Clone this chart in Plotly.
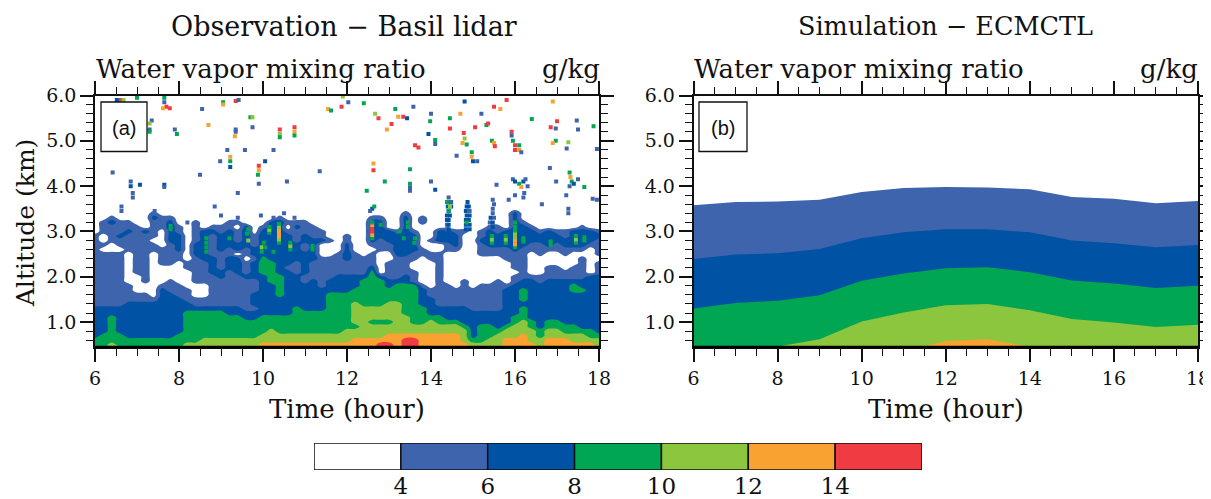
import plotly.graph_objects as go

W, H = 1211, 499
SERIF = "DejaVu Serif"
band_colors = ["#ffffff", "#3e64ad", "#0052a4", "#00a651", "#8cc63f", "#f9a131", "#ef3b41"]
band_labels = [4, 6, 8, 10, 12, 14]
band_centres = [3, 5, 7, 9, 11, 13, 15]
bar_heights = [1, 1, 1, 1, 1, 1, 1]

# Panel (a): observed mixing-ratio class stacked upward in each time column ("class:top_km").
obs_hours = [round(6 + 0.2 * i, 1) for i in range(61)]
obs_columns = [
    "3:.6 2:1.35 1:2.5 0:2.55 1:2.95",
    "3:.72 2:1.37 1:2.55 0:2.6 1:2.7 0:2.95 1:3.25",
    "4:.55 3:1.15 2:1.38 1:2.55 0:2.7 1:3.1 2:3.2 1:3.3",
    "4:.45 3:.7 2:1.38 1:2.55 0:2.65 1:2.85 2:2.95 1:3.2",
    "3:.62 2:1.4 1:1.8 0:2.5 1:2.9 2:3.0 1:3.2",
    "3:.62 2:1.4 1:1.6 0:2.0 1:3.1",
    "3:.62 2:1.4 1:1.6 0:1.85 1:2.4 0:2.45 1:2.9 2:3.0 1:3.05",
    "3:.62 2:1.4 1:1.55 0:2.55 1:2.75 0:2.8 1:3.2 2:3.3 1:3.4",
    "3:.65 2:1.75 1:1.85 0:2.2 1:2.65 0:3.0 1:3.35",
    "3:.68 2:1.65 1:1.9 0:2.25 1:2.75 2:3.2 1:3.3",
    "3:.7 2:1.5 1:1.8 0:2.3 1:2.55 2:2.95 1:3.1",
    "4:.5 3:1.2 2:1.4 1:1.7 0:2.15 1:2.35 0:3.0",
    "4:.55 3:1.22 2:1.37 1:1.55 0:1.85 1:2.4 2:2.7 1:3.25",
    "4:.6 3:1.22 2:1.35 1:1.5 0:1.8 1:2.3 2:3.0 1:3.05",
    "4:.6 3:1.2 2:1.33 1:2.05 2:2.45 1:2.9 2:3.05 1:3.1",
    "4:.6 3:1.2 2:1.33 1:1.9 2:2.1 1:2.5 2:2.95 1:3.15",
    "4:.6 3:1.15 2:1.32 1:2.1 2:2.4 1:2.6 2:3.05 1:3.2",
    "4:.6 3:1.12 2:1.3 1:2.0 2:2.45 0:2.5 2:2.75 1:3.0 0:3.1 1:3.2",
    "4:.6 3:1.08 2:1.27 1:1.9 2:2.0 1:2.3 0:2.45 1:2.65 2:3.1 1:3.15",
    "4:.62 3:1.08 2:1.27 1:1.3 2:1.6 1:1.9 2:2.3 1:2.4 2:2.6 1:2.95",
    "5:.52 4:.75 3:1.1 2:2.0 3:2.4 2:3.0 1:3.1",
    "5:.53 4:.85 3:1.15 2:1.85 3:2.35 2:3.2 1:3.28",
    "5:.55 4:.75 3:1.18 2:1.55 3:2.05 2:3.22 1:3.3",
    "5:.5 4:.7 3:1.18 2:2.1 1:2.2 2:2.9 1:3.0 0:3.1 1:3.2",
    "5:.52 4:.71 3:1.35 2:2.0 1:2.3 2:2.7 1:3.0 2:3.1 1:3.28",
    "5:.52 4:.71 3:1.25 2:1.85 1:2.0 2:2.5 1:2.7 2:2.9 1:3.2",
    "5:.58 4:.71 3:1.2 2:1.9 1:2.3 2:2.85 1:3.1",
    "5:.58 4:.71 3:1.2 2:1.75 1:2.4 0:2.7 2:2.85 1:3.0",
    "5:.55 4:.71 3:1.65 2:1.95 1:2.45 0:2.75 1:2.8",
    "5:.52 4:.7 3:1.6 2:2.0 1:2.5",
    "5:.55 4:.8 3:1.65 2:2.0 1:2.3 2:2.7 1:2.9",
    "5:.62 4:.88 3:.95 4:1.42 3:1.72 2:2.05 1:2.55",
    "5:.66 4:.9 3:.92 4:1.3 3:1.95 2:2.0 1:2.45 0:2.9 1:2.95",
    "5:.68 4:.9 3:1.05 4:1.3 3:2.1 2:2.2 1:2.5 0:2.6 1:2.75 2:3.25 1:3.3",
    "6:.58 5:.68 4:.9 3:1.05 4:1.35 3:1.9 2:2.0 1:2.02 0:2.55 1:2.85 2:3.2 1:3.35",
    "6:.58 5:.7 4:.9 3:1.05 4:1.4 3:1.75 2:1.95 1:2.3 0:2.55 1:2.75 2:3.0 1:3.05",
    "5:.72 4:1.45 3:1.8 2:1.95 1:2.4 2:2.9 1:3.0",
    "6:.62 5:.75 4:1.1 3:1.8 2:2.0 1:2.45 2:3.3 1:3.45",
    "6:.6 5:.7 4:.95 3:1.8 2:1.85 1:2.1 0:2.3 1:2.5 2:2.9 1:3.0",
    "5:.7 4:.98 3:1.35 2:1.75 1:1.85 0:2.45 1:2.6 0:3.1 1:3.35",
    "5:.71 4:1.0 3:1.16 2:1.55 1:1.7 0:2.35 1:2.5 0:2.75 1:2.85",
    "5:.72 4:.95 3:1.1 2:1.35 1:2.55 0:2.7 2:3.0 1:3.05",
    "5:.72 4:.95 3:1.03 2:1.3 1:1.85 0:2.55 1:2.7 2:3.0",
    "5:.75 4:.95 3:1.0 2:1.3 1:1.75 0:2.55 1:2.65 2:2.9 1:3.0",
    "5:.52 4:.8 3:.92 2:1.3 1:1.9 0:2.9 1:3.0",
    "4:.52 3:.68 2:1.27 1:1.75 0:2.85",
    "4:.52 3:.9 2:1.25 1:1.8 0:2.4 1:2.7 2:2.85 1:3.0",
    "4:.6 3:.9 2:1.22 1:1.8 0:2.4 1:2.6 2:3.0 1:3.1",
    "5:.48 4:.72 3:.8 2:1.2 1:1.95 0:2.45 1:2.6 2:2.9 1:3.1",
    "5:.65 4:.85 3:.95 2:1.75 1:1.85 0:2.3 1:2.6 2:3.0 1:3.05",
    "5:.68 4:.95 3:1.15 2:1.85 1:2.0 0:2.1 1:2.5 2:3.4 1:3.45",
    "5:.72 4:1.0 3:1.3 2:1.45 3:1.78 2:1.95 1:2.6 2:3.1 1:3.2",
    "5:.55 4:.8 3:1.0 2:1.9 1:2.0 0:2.5 1:2.75 2:3.0 1:3.1",
    "4:.6 3:.8 2:1.88 1:2.0 0:2.45 1:2.7 2:2.9 1:3.0",
    "5:.62 4:.85 3:1.05 2:1.9 1:2.2 0:2.5 1:2.6 2:3.0 1:3.05",
    "5:.62 4:.8 3:1.0 2:1.92 1:2.2 0:2.5 1:2.7 2:2.95 1:3.05",
    "5:.6 4:.75 3:.93 2:1.95 1:2.15 0:2.4 1:2.6 2:2.8 1:3.0",
    "5:.58 4:.72 3:.9 2:1.65 3:1.8 2:1.95 1:2.2 0:2.5 1:2.6 2:3.05 1:3.08",
    "5:.55 4:.7 3:.85 2:1.65 3:1.75 2:1.97 1:2.45 0:2.55 1:2.65 2:3.05 1:3.1",
    "5:.5 4:.66 3:.8 2:2.0 1:2.05 0:2.6 1:2.7 2:3.0 1:3.05",
    "5:.48 4:.65 3:.77 2:2.0 1:2.3 0:2.45 1:2.8 2:2.95 1:3.05",
]
obs_altitudes = [round(0.4 + 0.1 * i, 1) for i in range(37)]

# Panel (a): isolated cloud-top retrievals, (hour, km, class).
specks = [
    (6.6,5.9,6),(6.52,5.9,2),(6.68,5.9,4),(7.0,5.95,3),(7.65,5.95,3),(7.65,5.85,1),(7.7,5.75,6),(7.62,5.72,5),(7.78,5.72,6),
    (7.35,5.45,1),(7.3,5.38,4),(7.3,5.25,1),(7.3,5.2,3),(7.9,5.25,1),(7.95,5.15,3),(8.55,5.7,1),(8.7,5.35,5),(9.05,5.85,3),(9.05,5.8,5),
    (9.35,5.88,6),(9.42,5.9,1),(9.7,5.52,3),(9.75,5.52,4),(9.35,5.25,1),(9.35,5.2,1),(9.33,5.1,5),(9.75,5.3,1),
    (10.4,5.25,6),(10.4,5.15,4),(10.4,5.08,3),(10.75,5.3,6),(10.75,5.2,5),(10.75,5.12,3),(9.15,4.8,1),(9.22,4.65,5),(9.22,4.55,3),(9.22,4.42,2),
    (8.98,4.55,1),(9.57,4.8,1),(9.9,4.45,6),(9.9,4.35,5),(9.88,4.25,3),(10.05,4.55,2),(10.25,4.8,1),(9.9,4.05,1),(10.57,4.1,1),(11.35,4.33,1),
    (8.5,4.25,1),(9.4,3.85,1),(6.42,4.3,1),(6.85,4.1,1),(6.85,4.0,2),(6.9,3.85,1),(6.9,3.75,1),(7.07,4.03,2),(7.65,4.03,2),(7.65,3.98,1),
    (6.63,3.55,1),(6.63,3.45,1),(8.85,3.55,1),(11.55,5.7,5),(11.62,5.67,3),(11.87,5.75,6),(12.03,5.85,1),(11.9,5.98,4),(12.4,5.83,3),
    (12.67,5.6,4),(12.75,5.5,6),(13.06,5.37,6),(12.95,5.25,5),(13.15,5.7,3),(13.22,5.53,5),(13.34,5.53,6),(13.43,5.5,2),(13.58,5.75,1),
    (14.0,5.6,1),(13.98,5.43,3),(13.94,5.15,2),(13.62,4.9,6),(13.7,4.85,6),(14.1,5.02,3),(14.1,4.93,1),(14.45,5.5,3),(14.45,5.27,6),(14.7,5.6,5),
    (14.8,5.87,2),(14.61,4.67,1),(14.78,5.17,6),(14.8,5.05,4),(14.75,4.95,5),(14.85,4.92,3),(14.97,4.75,3),(14.97,4.65,5),(15.0,4.55,2),(15.1,4.55,1),
    (15.05,5.3,6),(15.32,5.35,3),(15.36,5.38,6),(15.5,5.75,6),(15.65,5.7,5),(15.8,5.9,6),(15.2,5.6,1),(15.45,5.0,3),(15.5,4.95,5),(15.52,4.88,6),
    (15.92,5.2,6),(15.92,5.12,1),(15.95,5.0,3),(16.0,4.9,6),(16.0,4.8,6),(16.1,4.9,3),(16.1,4.8,5),(16.15,4.75,1),(16.4,5.48,3),(16.9,5.87,5),
    (17.0,5.43,6),(16.85,5.3,6),(16.97,5.27,1),(16.97,5.0,3),(16.9,4.95,5),(17.27,4.97,4),(17.23,4.83,1),(17.5,5.25,1),(17.87,5.32,3),(17.95,4.82,1),
    (17.47,5.45,1),(12.63,4.5,5),(12.63,4.35,6),(13.5,4.37,3),(13.5,4.05,3),(13.5,3.97,1),(13.5,3.9,1),(12.9,4.1,3),(14.0,4.1,1),(14.1,3.92,2),
    (12.47,3.9,3),(12.6,3.5,2),(12.55,3.45,1),(12.65,3.55,3),(16.83,4.4,1),(15.56,4.03,1),(16.98,4.1,1),(15.95,4.15,1),(16.0,4.1,2),(16.1,4.05,3),
    (16.15,3.98,5),(16.2,4.1,2),(16.25,4.15,1),(16.3,4.0,1),(16.22,3.85,1),(16.2,3.75,1),(16.0,3.8,1),(17.3,4.3,3),(17.32,4.2,5),(17.35,4.1,3),
    (17.4,4.05,2),(17.5,4.15,1),(17.3,4.0,1),(17.65,3.98,3),(17.95,3.7,1),(17.85,3.72,1),(17.27,3.4,1),(17.27,3.5,1),(17.22,3.8,1),(15.85,3.7,1),(16.64,3.6,1),
]

# Panel (a): narrow moist towers rising from the layer top, (hour, km, class).
towers = [
    (14.38,3.05,1),(14.42,3.05,2),(14.38,3.15,1),(14.42,3.15,2),(14.38,3.25,2),(14.42,3.25,2),(14.38,3.35,2),(14.45,3.35,2),
    (14.42,3.45,2),(14.48,3.55,2),(14.4,3.55,2),(14.42,3.65,2),(14.48,3.65,1),(14.42,3.75,1),
    (14.83,3.05,2),(14.92,3.05,2),(14.83,3.15,2),(14.92,3.15,2),(14.83,3.25,2),(14.9,3.25,2),(14.85,3.35,2),(14.92,3.35,2),
    (14.83,3.45,2),(14.92,3.45,1),(14.85,3.55,2),(14.9,3.55,2),(14.87,3.65,2),
    (15.4,3.1,1),(15.47,3.1,2),(15.4,3.2,1),(15.47,3.2,2),(15.42,3.3,2),(15.5,3.3,1),(15.47,3.4,1),(15.47,3.5,1),(15.5,3.6,1),(15.47,3.7,1),
    (7.42,3.45,1),(8.2,3.2,1),(9.0,3.35,1),(9.4,3.3,1),(9.95,3.35,1),(10.25,3.3,1),(10.5,3.4,1),(10.75,3.3,1),
]

# Panel (a): narrow moist streaks embedded in the 2.5-3.7 km layer, (hour, km, class).
streaks = [
    (10.38,2.75,3),(10.38,2.82,4),(10.38,2.9,5),(10.38,2.97,5),(10.38,3.04,5),(10.38,3.1,4),(10.38,3.17,3),
    (10.15,2.97,3),(10.15,3.04,4),(10.15,3.1,3),(9.97,2.55,3),(9.97,2.65,4),(10.02,2.75,3),(10.05,2.65,3),(10.25,2.55,3),
    (10.65,2.6,3),(10.65,2.68,4),(10.65,2.75,3),(11.18,2.6,3),(11.18,2.68,3),(8.65,2.55,3),(8.65,2.65,3),(8.65,2.75,3),(8.65,2.85,3),
    (7.8,3.05,3),(7.8,3.12,3),(9.2,2.85,3),(9.62,2.95,3),(9.65,3.05,3),(9.65,2.8,4),
    (12.6,2.85,3),(12.6,2.92,5),(12.6,3.0,6),(12.6,3.07,6),(12.6,3.14,5),(12.6,3.2,3),(12.8,3.15,3),
    (13.25,3.0,3),(13.35,2.85,3),(13.45,3.1,3),(13.45,3.2,3),(13.6,2.75,3),(13.62,2.85,3),(14.42,3.45,3),(14.45,3.55,4),(14.38,3.65,3),(14.85,3.2,3),
    (15.45,2.75,3),(15.45,2.82,4),(15.45,2.9,3),(15.78,2.75,3),(15.78,2.82,4),(15.78,2.9,3),
    (16.0,2.65,3),(16.0,2.72,5),(16.0,2.8,5),(16.0,2.87,4),(16.0,2.95,4),(16.0,3.02,3),(16.0,3.1,3),(16.0,3.2,3),
    (16.2,2.78,3),(16.2,2.85,3),(16.85,2.7,3),(16.85,2.78,3),(17.45,2.75,3),(17.45,2.82,4),(17.45,2.9,3),(17.65,2.8,3),(17.65,2.87,3),
]

# Panel (b): altitude (km) of each mixing-ratio isopleth, hourly.
sim_hours = [6, 7, 8, 9, 10, 11, 12, 13, 14, 15, 16, 17, 18]
sim_iso4 = [3.58, 3.65, 3.66, 3.70, 3.87, 3.96, 3.98, 3.97, 3.93, 3.76, 3.72, 3.62, 3.67]
sim_iso6 = [2.39, 2.49, 2.52, 2.61, 2.85, 2.98, 3.05, 3.05, 2.98, 2.80, 2.74, 2.65, 2.70]
sim_iso8 = [1.30, 1.42, 1.47, 1.59, 1.91, 2.07, 2.19, 2.21, 2.10, 1.92, 1.85, 1.75, 1.80]
sim_iso10 = [0.30, 0.38, 0.46, 0.62, 1.01, 1.21, 1.37, 1.40, 1.26, 1.07, 0.99, 0.89, 0.94]
sim_iso12 = [0.1, 0.1, 0.1, 0.1, 0.2, 0.36, 0.58, 0.62, 0.45, 0.3, 0.2, 0.1, 0.1]


def cell_class(col, h):
    for item in col.split():
        cls, top = item.split(":")
        if h <= float(top):
            return int(cls)
    return 0


def fx(px):  # page pixel -> paper fraction (the page body has an 8 px margin)
    return (px - 8) / W


def fy(py):
    return 1 - (py - 8) / H


obs_z = [[band_centres[cell_class(c, h)] for c in obs_columns] for h in obs_altitudes]
marks = specks + towers + streaks

fig = go.Figure()
discrete = [[i / 6, c] for i, c in enumerate(band_colors)]
fig.add_trace(go.Contour(
    x=obs_hours, y=obs_altitudes, z=obs_z, xaxis="x", yaxis="y",
    contours=dict(coloring="fill", start=4, end=14, size=2, showlines=False),
    line=dict(width=0), colorscale=discrete, showscale=False, hoverinfo="skip",
))
fig.add_trace(go.Scatter(
    x=[s[0] for s in marks], y=[s[1] for s in marks], mode="markers", xaxis="x", yaxis="y",
    marker=dict(symbol="square", size=4, color=[band_colors[s[2]] for s in marks], line=dict(width=0)),
    showlegend=False,
))
for iso, colr in zip([sim_iso4, sim_iso6, sim_iso8, sim_iso10, sim_iso12], band_colors[1:6]):
    fig.add_trace(go.Scatter(x=sim_hours, y=iso, mode="none", fill="tozeroy", fillcolor=colr,
                             xaxis="x2", yaxis="y2", showlegend=False))
fig.add_trace(go.Bar(
    x=band_centres, y=bar_heights, width=2, xaxis="x3", yaxis="y3", showlegend=False,
    marker=dict(color=band_colors, line=dict(color="#111", width=1.5)),
))


def xa(x0, x1, anchor):
    return dict(
        domain=[fx(x0), fx(x1)], range=[6, 18], anchor=anchor, tick0=6, dtick=2, ticks="outside",
        ticklen=13, tickwidth=1.5, tickcolor="#111", linecolor="#111", linewidth=1.5, mirror="ticks",
        showgrid=False, zeroline=False, tickfont=dict(family=SERIF, size=19, color="#111"),
        minor=dict(dtick=0.5, tick0=6, ticks="outside", ticklen=7, tickwidth=1.2, tickcolor="#111", showgrid=False),
    )


def ya(anchor):
    return dict(
        domain=[fy(347), fy(95.5)], range=[0.45, 6], anchor=anchor, tick0=0, dtick=1, tickformat=".1f",
        ticks="outside", ticklen=13, tickwidth=1.5, tickcolor="#111", linecolor="#111", linewidth=1.5, mirror="ticks",
        showgrid=False, zeroline=False, tickfont=dict(family=SERIF, size=19, color="#111"),
        minor=dict(dtick=0.2, tick0=0, ticks="outside", ticklen=7, tickwidth=1.2, tickcolor="#111", showgrid=False),
    )


def note(text, x, y, size=26, xanchor="center", angle=0, family=SERIF):
    return dict(text=text, x=fx(x), y=fy(y), xref="paper", yref="paper", showarrow=False, xanchor=xanchor,
                yanchor="middle", textangle=angle, font=dict(family=family, size=size, color="#111"))


annots = [
    note("Observation − Basil lidar", 344, 26, size=27),
    note("Simulation − ECMCTL", 945, 26, size=25.5),
    note("Water vapor mixing ratio", 94, 69, xanchor="left"),
    note("g/kg", 602, 69, xanchor="right"),
    note("Water vapor mixing ratio", 692, 69, xanchor="left"),
    note("g/kg", 1200, 69, xanchor="right"),
    note("Time (hour)", 347, 409),
    note("Time (hour)", 946, 409),
    note("Altitude (km)", 25, 223, size=25, angle=-90),
    note("(a)", 124, 128, size=20, family="Liberation Sans"),
    note("(b)", 723, 128, size=20, family="Liberation Sans"),
]


def box(x0, x1):
    return dict(type="rect", xref="paper", yref="paper", x0=fx(x0), x1=fx(x1), y0=fy(151.5), y1=fy(102),
                line=dict(color="#111", width=1.3), fillcolor="white", layer="above")


def base(xr, yr):
    return dict(type="line", xref=xr + " domain", yref=yr + " domain", x0=0, x1=1, y0=0, y1=0,
                line=dict(color="#000", width=2.5), layer="above")


fig.update_layout(
    width=W, height=H, autosize=False, margin=dict(l=0, r=0, t=0, b=0, autoexpand=False),
    paper_bgcolor="white", plot_bgcolor="white", showlegend=False,
    xaxis=xa(95, 599, "y"), yaxis=ya("x"),
    xaxis2=xa(693.5, 1198, "y2"), yaxis2=ya("x2"),
    xaxis3=dict(domain=[fx(314), fx(922)], range=[2, 16], anchor="y3", tickvals=band_labels, ticks="", showgrid=False,
                zeroline=False, showline=False, tickfont=dict(family=SERIF, size=23, color="#111")),
    yaxis3=dict(domain=[fy(470), fy(443)], range=[0, 1], anchor="x3", visible=False),
    annotations=annots,
    shapes=[box(101, 147), box(699, 747), base("x", "y"), base("x2", "y2")],
)
fig.write_html("out.html")
